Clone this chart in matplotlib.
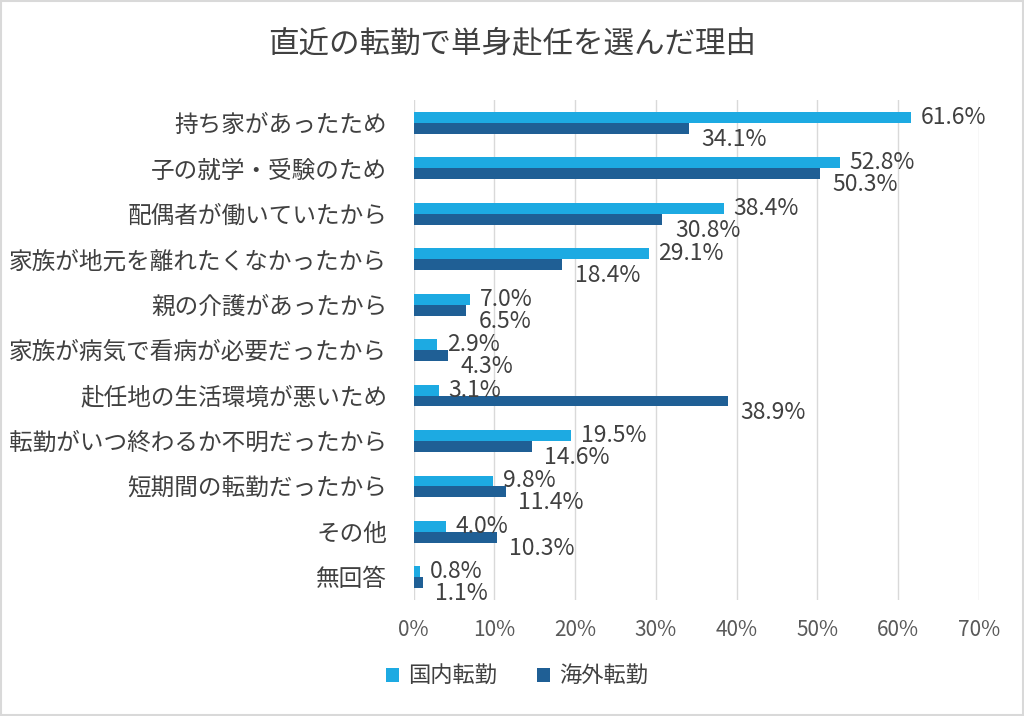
import matplotlib
matplotlib.use('Agg')
import matplotlib.pyplot as plt
import numpy as np

plt.rcParams['font.family'] = ['Noto Sans CJK JP', 'DejaVu Sans']

categories = ['持ち家があったため', '子の就学・受験のため', '配偶者が働いていたから',
              '家族が地元を離れたくなかったから', '親の介護があったから',
              '家族が病気で看病が必要だったから', '赴任地の生活環境が悪いため',
              '転勤がいつ終わるか不明だったから', '短期間の転勤だったから',
              'その他', '無回答']
domestic = [61.6, 52.8, 38.4, 29.1, 7.0, 2.9, 3.1, 19.5, 9.8, 4.0, 0.8]
overseas = [34.1, 50.3, 30.8, 18.4, 6.5, 4.3, 38.9, 14.6, 11.4, 10.3, 1.1]
series_names = ['国内転勤', '海外転勤']
xticks = [0, 10, 20, 30, 40, 50, 60, 70]

c_dom = '#1DAAE2'
c_ovs = '#1F5F95'
text_c = '#404040'

fig = plt.figure(figsize=(10.24, 7.16), dpi=100)
ax = fig.add_axes([0.404, 0.162, 0.552, 0.698])

y = np.arange(len(categories))
h = 0.24
b1 = ax.barh(y - h / 2, domestic, height=h, color=c_dom, label=series_names[0], zorder=3)
b2 = ax.barh(y + h / 2, overseas, height=h, color=c_ovs, label=series_names[1], zorder=3)

for yy, v in zip(y, domestic):
    ax.annotate(f'{v:.1f}%', (v, yy - h / 2), xytext=(7, 0), textcoords='offset points',
                va='center', ha='left', fontsize=16.5, color=text_c)
for yy, v in zip(y, overseas):
    ax.annotate(f'{v:.1f}%', (v, yy + h / 2), xytext=(9, -8), textcoords='offset points',
                va='center', ha='left', fontsize=16.5, color=text_c)

ax.set_xlim(0, 70)
ax.set_ylim(len(categories) - 0.5, -0.5)
ax.set_xticks(xticks)
ax.set_xticklabels([f'{t}%' for t in xticks], fontsize=15, color='#595959')
ax.set_yticks(y)
ax.set_yticklabels(categories, fontsize=17, color=text_c)
ax.tick_params(axis='y', length=0, pad=19)
ax.tick_params(axis='x', length=0, pad=14)
ax.grid(axis='x', color='#d9d9d9', linewidth=1, zorder=0)
for s in ax.spines.values():
    s.set_visible(False)

fig.suptitle('直近の転勤で単身赴任を選んだ理由', fontsize=22, color=text_c, y=0.96)

fig.legend(handles=[b1, b2], loc='center', bbox_to_anchor=(0.505, 0.055), ncol=2,
           frameon=False, fontsize=16, handlelength=0.6, handleheight=0.6,
           columnspacing=1.8, handletextpad=0.4, labelcolor=text_c)

fig.patches.append(plt.Rectangle((0.001, 0.001), 0.998, 0.998, transform=fig.transFigure,
                                 fill=False, edgecolor='#d9d9d9', linewidth=1.5))

fig.savefig('out.png', dpi=100, facecolor='white')
